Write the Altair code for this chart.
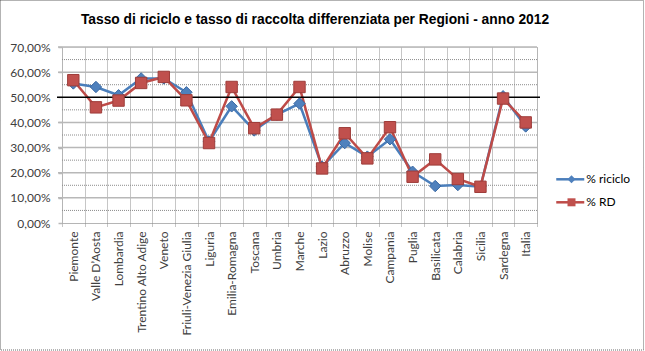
import altair as alt
import pandas as pd

regions = ["Piemonte", "Valle D’Aosta", "Lombardia", "Trentino Alto Adige", "Veneto",
           "Friuli-Venezia Giulia", "Liguria", "Emilia-Romagna", "Toscana", "Umbria",
           "Marche", "Lazio", "Abruzzo", "Molise", "Campania", "Puglia", "Basilicata",
           "Calabria", "Sicilia", "Sardegna", "Italia"]
riciclo = [55.5, 54.1, 50.8, 57.5, 57.5, 52.0, 32.4, 46.4, 36.8, 43.1, 47.5,
           22.4, 31.8, 26.4, 33.3, 20.4, 14.7, 15.1, 14.4, 50.4, 38.4]
rd = [56.8, 46.0, 48.7, 55.7, 58.1, 48.8, 31.8, 54.1, 37.7, 43.1, 54.1,
      21.7, 35.7, 25.7, 38.1, 18.4, 25.3, 17.5, 14.4, 49.5, 40.0]
series_names = ["% riciclo", "% RD"]
threshold = 50
major_ticks = [10, 20, 30, 40, 60, 70]
minor_ticks = [5, 15, 25, 35, 45, 55, 65]
axis_ticks = [0, 10, 20, 30, 40, 50, 60, 70]
title_text = "Tasso di riciclo e tasso di raccolta differenziata per Regioni - anno 2012"

line_colors = ["#4a7ebb", "#be4b48"]
fill_colors = ["#4f81bd", "#c0504d"]
edge_colors = ["#3b69a3", "#9e3d3a"]
shapes = ["diamond", "square"]

rows = []
for i, r in enumerate(regions):
    rows.append({"regione": r, "serie": series_names[0], "valore": riciclo[i]})
    rows.append({"regione": r, "serie": series_names[1], "valore": rd[i]})
df = pd.DataFrame(rows)

W, H = 475, 176

x_enc = alt.X(
    "regione:N", sort=regions,
    scale=alt.Scale(type="band", paddingInner=0, paddingOuter=0),
    axis=alt.Axis(title=None, labelAngle=-90, tickBand="extent", grid=True,
                  gridColor="#8c8c8c", gridDash=[1, 1], gridWidth=1,
                  domainColor="#8c8c8c", domainDash=[1, 1], domainWidth=1,
                  tickColor="#8c8c8c", tickDash=[1, 1], tickSize=4,
                  labelFont="Lato", labelFontSize=12, labelColor="#404040",
                  labelPadding=4, labelOverlap=False),
)

y_axis = alt.Axis(
    title=None, values=axis_ticks,
    labelExpr="replace(format(datum.value, '.2f'), '.', ',') + '%'",
    grid=False,
    tickColor="#b8b8b8", tickSize=4, tickWidth=1.5, domain=False,
    labelFont="Lato", labelFontSize=12, labelColor="#404040", labelPadding=8,
    labelOverlap=False, labelBound=False, labelFlush=False,
)
y_scale = alt.Scale(domain=[0, 70], nice=False, zero=True)

base = alt.Chart(df).encode(
    x=x_enc,
    y=alt.Y("valore:Q", scale=y_scale, axis=y_axis),
)


def hline(value, color, width, dash, x_from, x_to):
    return alt.Chart(pd.DataFrame({"v": [value]})).mark_rule(
        color=color, strokeWidth=width, strokeDash=dash
    ).encode(y=alt.Y("v:Q", scale=y_scale, axis=y_axis),
             x=alt.value(x_from), x2=alt.value(x_to))


grid_layers = [hline(t, "#b8b8b8", 1.5, [1, 0], -4, W) for t in major_ticks]
grid_layers += [hline(t, "#8c8c8c", 1, [1, 1], 0, W) for t in minor_ticks]

lines = base.mark_line(strokeWidth=2.5).encode(
    color=alt.Color("serie:N", sort=series_names,
                    scale=alt.Scale(range=line_colors),
                    legend=alt.Legend(
                        title=None, orient="none", legendX=502.25, legendY=126.3, padding=0,
                        symbolType="M-3.111,0H3.111", symbolSize=81, symbolStrokeWidth=2.5,
                        labelOffset=10, rowPadding=11, labelFont="Lato", labelFontSize=12,
                        labelColor="#000000")),
)

rule = hline(threshold, "black", 1.5, [1, 0], -5, W + 3)

point_layers = []
for k in range(2):
    point_layers.append(
        base.transform_filter(alt.datum.serie == series_names[k]).mark_point(
            filled=True, size=130, opacity=1, color=fill_colors[k],
            stroke=edge_colors[k], strokeWidth=1
        ).encode(
            shape=alt.Shape("serie:N", scale=alt.Scale(range=[shapes[k]]),
                            legend=alt.Legend(
                                title=None, orient="none", legendX=503.5,
                                legendY=126.3 + 23 * k, padding=0, symbolSize=64,
                                symbolFillColor=fill_colors[k], symbolStrokeColor=edge_colors[k],
                                symbolStrokeWidth=1, labelExpr="''", labelFontSize=12)),
        )
    )

border = alt.Chart(pd.DataFrame({"b": [0]})).mark_rect(
    fill="transparent", stroke="#666666", strokeDash=[1, 1], strokeWidth=1
).encode(x=alt.value(-61.5), x2=alt.value(581.5), y=alt.value(-46.5), y2=alt.value(303))

chart = alt.layer(*grid_layers, lines, rule, *point_layers, border).properties(
    width=W, height=H,
    title=alt.TitleParams(title_text, font="Liberation Sans", fontSize=13.8,
                          fontWeight="bold", color="#000000", anchor="middle",
                          dx=15.5, offset=-27),
    autosize=alt.AutoSizeParams(type="none"),
    padding={"left": 62, "top": 47, "right": 108, "bottom": 128},
).resolve_scale(shape="independent").configure_view(strokeWidth=0).configure(background="white")

chart.save("out.html", embed_options={"renderer": "svg", "actions": False})
